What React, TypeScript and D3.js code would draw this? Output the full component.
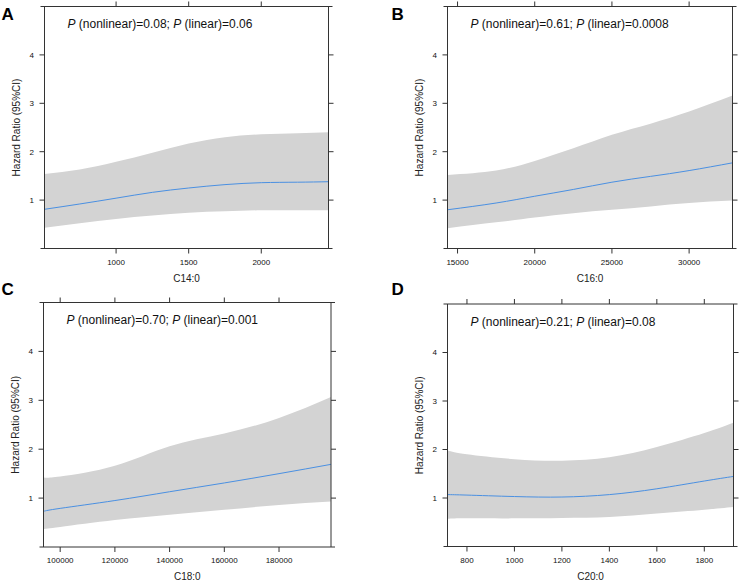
import React from 'react';
import * as d3 from 'd3';

// panel data
const xA = [507, 750, 1000, 1250, 1500, 1750, 2000, 2250, 2463];
const hrA = [0.81, 0.92, 1.04, 1.16, 1.25, 1.32, 1.36, 1.37, 1.38];
const hiA = [1.54, 1.63, 1.79, 1.98, 2.17, 2.3, 2.36, 2.38, 2.4];
const loA = [0.43, 0.52, 0.61, 0.68, 0.74, 0.77, 0.79, 0.79, 0.79];

const xB = [14350, 17500, 20000, 22500, 25000, 27500, 30000, 32810];
const hrB = [0.8, 0.94, 1.08, 1.22, 1.37, 1.49, 1.61, 1.77];
const hiB = [1.52, 1.61, 1.81, 2.07, 2.35, 2.58, 2.83, 3.16];
const loB = [0.42, 0.54, 0.64, 0.73, 0.8, 0.87, 0.94, 0.99];

const xC = [93900, 100000, 120000, 140000, 160000, 180000, 199000];
const hrC = [0.73, 0.79, 0.95, 1.13, 1.31, 1.5, 1.69];
const hiC = [1.42, 1.44, 1.66, 2.06, 2.32, 2.64, 3.07];
const loC = [0.37, 0.41, 0.55, 0.66, 0.76, 0.86, 0.93];

const xD = [718, 800, 1000, 1200, 1400, 1600, 1800, 1923];
const hrD = [1.07, 1.06, 1.03, 1.02, 1.07, 1.19, 1.35, 1.445];
const hiD = [1.98, 1.9, 1.8, 1.77, 1.84, 2.05, 2.34, 2.55];
const loD = [0.57, 0.58, 0.58, 0.59, 0.61, 0.68, 0.76, 0.815];

const xTicksA = [1000, 1500, 2000];
const xTicksB = [15000, 20000, 25000, 30000];
const xTicksC = [100000, 120000, 140000, 160000, 180000];
const xTicksD = [800, 1000, 1200, 1400, 1600, 1800];
const yTicks = [1, 2, 3, 4];

const labels = ['A', 'B', 'C', 'D'];
const xNames = ['C14:0', 'C16:0', 'C18:0', 'C20:0'];
const pNonlinear = ['0.08', '0.61', '0.70', '0.21'];
const pLinear = ['0.06', '0.0008', '0.001', '0.08'];

const FONT = 'Liberation Sans, Arial, Helvetica, sans-serif';
const AXIS = '#333';

interface PanelProps {
  letter: string;
  xName: string;
  pn: string;
  pl: string;
  xs: number[];
  hr: number[];
  hi: number[];
  lo: number[];
  xTicks: number[];
  left: number;
  top: number;
  width: number;
  height: number;
  letterX: number;
  letterY: number;
}

const Panel: React.FC<PanelProps> = ({
  letter, xName, pn, pl, xs, hr, hi, lo, xTicks,
  left, top, width, height, letterX, letterY,
}) => {
  const x = d3.scaleLinear().domain([xs[0], xs[xs.length - 1]]).range([left, left + width]);
  const y = d3.scaleLinear().domain([0, 5]).range([top + height, top]);
  const bottom = top + height;
  const right = left + width;

  const band = d3.area<number>()
    .x((_, i) => x(xs[i]))
    .y0((_, i) => y(lo[i]))
    .y1((_, i) => y(hi[i]))
    .curve(d3.curveNatural);
  const fit = d3.line<number>()
    .x((_, i) => x(xs[i]))
    .y((d) => y(d))
    .curve(d3.curveNatural);

  const tk = 5;
  return (
    <g fontFamily={FONT}>
      <text x={letterX} y={letterY} fontSize={17} fontWeight="bold" fill="#000">{letter}</text>
      <path d={band(hr) || ''} fill="#d3d3d3" />
      <path d={fit(hr) || ''} fill="none" stroke="#4a90e2" strokeWidth={1} />

      {/* frame: horizontal lines overshoot a little, as in the lattice output */}
      <line x1={left - 4} x2={right + 4} y1={top} y2={top} stroke={AXIS} />
      <line x1={left - 4} x2={right + 4} y1={bottom} y2={bottom} stroke={AXIS} />
      <line x1={left} x2={left} y1={top} y2={bottom} stroke={AXIS} />
      <line x1={right} x2={right} y1={top} y2={bottom} stroke={AXIS} />

      {yTicks.map((t) => (
        <g key={'y' + t}>
          <line x1={left - tk} x2={left} y1={y(t)} y2={y(t)} stroke={AXIS} />
          <line x1={right} x2={right + tk} y1={y(t)} y2={y(t)} stroke={AXIS} />
          <text x={left - 10.5} y={y(t)} dy="0.35em" textAnchor="end" fontSize={8} fill="#111">{t}</text>
        </g>
      ))}
      {xTicks.map((t) => (
        <g key={'x' + t}>
          <line x1={x(t)} x2={x(t)} y1={bottom} y2={bottom + tk} stroke={AXIS} />
          <line x1={x(t)} x2={x(t)} y1={top - tk} y2={top} stroke={AXIS} />
          <text x={x(t)} y={bottom + 16} textAnchor="middle" fontSize={8} fill="#111">{t}</text>
        </g>
      ))}

      <text x={(left + right) / 2} y={bottom + 33} textAnchor="middle" fontSize={10} fill="#222">{xName}</text>
      <text
        transform={`translate(${left - 28},${(top + bottom) / 2}) rotate(-90)`}
        dy="0.35em"
        textAnchor="middle"
        fontSize={10}
        fill="#222"
      >
        Hazard Ratio (95%CI)
      </text>
      <text x={left + 23} y={top + 21.5} fontSize={12} fill="#111">
        <tspan fontStyle="italic">P</tspan> (nonlinear)={pn}; <tspan fontStyle="italic">P</tspan> (linear)={pl}
      </text>
    </g>
  );
};

export default function App() {
  const panels = [
    { xs: xA, hr: hrA, hi: hiA, lo: loA, xTicks: xTicksA, left: 44.5, top: 6.5, width: 284, height: 242, letterX: 1.5, letterY: 20 },
    { xs: xB, hr: hrB, hi: hiB, lo: loB, xTicks: xTicksB, left: 447.5, top: 6.5, width: 285, height: 242, letterX: 391.5, letterY: 19.5 },
    { xs: xC, hr: hrC, hi: hiC, lo: loC, xTicks: xTicksC, left: 43.5, top: 302.5, width: 287.5, height: 244.5, letterX: 1.5, letterY: 294.5 },
    { xs: xD, hr: hrD, hi: hiD, lo: loD, xTicks: xTicksD, left: 447.5, top: 304, width: 286, height: 242.5, letterX: 391.5, letterY: 295 },
  ];
  return (
    <div style={{ position: 'absolute', left: 0, top: 0 }}>
      <svg width={740} height={583} style={{ display: 'block', background: '#fff' }}>
        {panels.map((p, i) => (
          <Panel
            key={labels[i]}
            letter={labels[i]}
            xName={xNames[i]}
            pn={pNonlinear[i]}
            pl={pLinear[i]}
            {...p}
          />
        ))}
      </svg>
    </div>
  );
}
